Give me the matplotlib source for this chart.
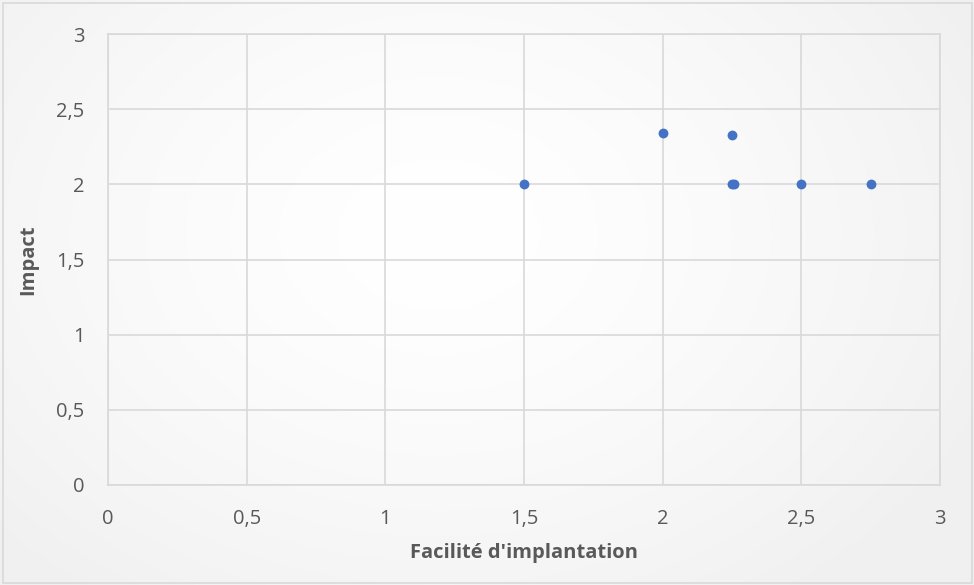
import matplotlib
matplotlib.use("Agg")
import matplotlib.pyplot as plt
import numpy as np
from matplotlib.patches import Rectangle

# Data
facilite = [1.5, 2.0, 2.25, 2.25, 2.256, 2.5, 2.75]
impact = [2.0, 2.34, 2.33, 2.0, 2.0, 2.0, 2.0]
ticks = [0, 0.5, 1, 1.5, 2, 2.5, 3]
tick_labels = ["0", "0,5", "1", "1,5", "2", "2,5", "3"]
xlabel = "Facilité d'implantation"
ylabel = "Impact"

W, H = 974, 585
fig = plt.figure(figsize=(W / 100, H / 100), dpi=100)

# background radial gradient
bg = fig.add_axes([0, 0, 1, 1], zorder=-10)
yy, xx = np.mgrid[0:H, 0:W]
r = np.sqrt(((xx - W * 0.45) / (W * 0.6)) ** 2 + ((yy - H * 0.4) / (H * 0.75)) ** 2)
r = np.clip(r, 0, 1)
v = 1.0 - (1.0 - 0.945) * r ** 1.5
img = np.dstack([v, v, v])
bg.imshow(img, extent=[0, W, H, 0], aspect="auto", interpolation="bilinear")
bg.set_xlim(0, W)
bg.set_ylim(H, 0)
bg.add_patch(Rectangle((2.5, 2.5), W - 5, H - 5, fill=False, edgecolor="#d9d9d9", lw=1.2))
bg.axis("off")

left, right, top, bottom = 108, 940, 34, 485
ax = fig.add_axes([left / W, 1 - bottom / H, (right - left) / W, (bottom - top) / H])
ax.patch.set_alpha(0)
ax.set_xlim(0, 3)
ax.set_ylim(0, 3)
ax.set_xticks(ticks)
ax.set_yticks(ticks)
font = "Open Sans"
ax.set_xticklabels(tick_labels, fontsize=14.5, color="#595959", family=font)
ax.set_yticklabels(tick_labels, fontsize=14.5, color="#595959", family=font)
ax.tick_params(length=0)
ax.tick_params(axis="x", pad=17.5)
ax.tick_params(axis="y", pad=17)
ax.grid(True, color="#d9d9d9", lw=1.2)
for s in ax.spines.values():
    s.set_color("#d9d9d9")
    s.set_linewidth(1.2)
ax.set_axisbelow(True)

ax.scatter(facilite, impact, s=50, color="#4472C4", zorder=3, linewidths=0)

ax.set_xlabel(xlabel, fontsize=14.5, fontweight="bold", color="#595959", family=font, labelpad=10)
ax.set_ylabel(ylabel, fontsize=14.5, fontweight="bold", color="#595959", family=font, labelpad=13)

fig.savefig("out.png", dpi=100)
